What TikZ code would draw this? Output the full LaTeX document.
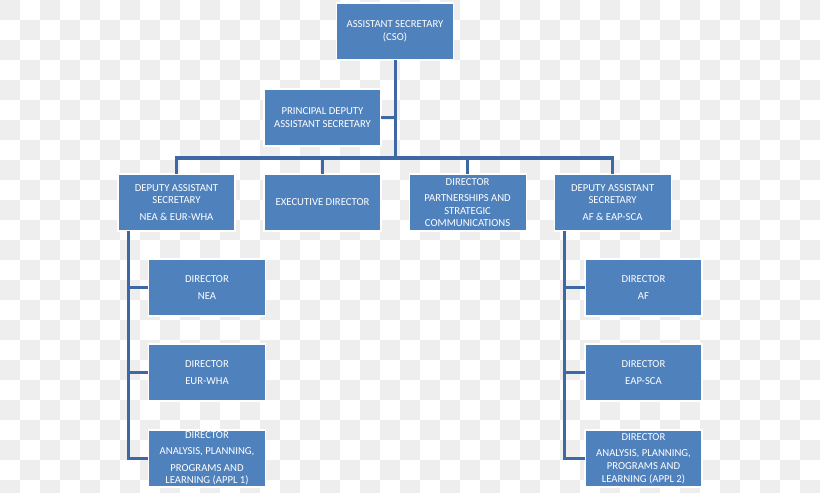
\documentclass[tikz,border=0pt]{standalone}
\usepackage{fontspec}
\setmainfont{Carlito}
\usepackage{xcolor}
\usepackage{tikz}
\usetikzlibrary{positioning}
\definecolor{boxblue}{RGB}{79,129,189}
\definecolor{lineblue}{RGB}{62,104,164}
\definecolor{checkgray}{RGB}{238,238,238}

\begin{document}
\begin{tikzpicture}[x=0.025cm,y=-0.025cm,
  font=\fontsize{7.6}{9}\selectfont,
  box/.style={draw=white,line width=0.8pt,fill=boxblue,text=white,minimum width=2.925cm,minimum height=1.425cm,inner sep=1pt,outer sep=0pt,align=center},
  link/.style={draw=lineblue,line width=0.075cm}
]
  \useasboundingbox (0,0) rectangle (820,492);
  % background checks
  \begin{scope}
    \clip (0,0) rectangle (820,492);
    \foreach \i in {0,...,40}
      \foreach \j in {0,...,24}{
        \pgfmathtruncatemacro{\odd}{mod(\i+\j,2)}
        \ifnum\odd=0 \fill[checkgray] (\i*20,\j*20) rectangle ++(20,20); \fi
      }
  \end{scope}

  \node[box] (cso) at (395,31.5) {ASSISTANT SECRETARY\\(CSO)};
  \node[box] (pdas) at (322.5,117.5) {PRINCIPAL DEPUTY\\ASSISTANT SECRETARY};

  \node[box] (dasnea) at (176.5,202.5) {DEPUTY ASSISTANT\\SECRETARY\\[3pt]NEA \& EUR-WHA};
  \node[box, right=0.725cm of dasnea] (execdir) {EXECUTIVE DIRECTOR};
  \node[box, right=0.7cm of execdir] (dirpsc) {DIRECTOR\\[2.5pt]PARTNERSHIPS AND\\STRATEGIC\\COMMUNICATIONS};
  \node[box, right=0.7cm of dirpsc] (dasaf) {DEPUTY ASSISTANT\\SECRETARY\\[3pt]AF \& EAP-SCA};

  \node[box] (dirnea) at (207,287.5) {DIRECTOR\\[3pt]NEA};
  \node[box, below=0.7cm of dirnea] (direur) {DIRECTOR\\[3pt]EUR-WHA};
  \node[box, below=0.725cm of direur] (appla) {DIRECTOR\\[2.5pt]ANALYSIS, PLANNING,\\[2.5pt]PROGRAMS AND\\LEARNING (APPL 1)};

  \node[box] (diraf) at (643.5,287.5) {DIRECTOR\\[3pt]AF};
  \node[box, below=0.7cm of diraf] (direap) {DIRECTOR\\[3pt]EAP-SCA};
  \node[box, below=0.725cm of direap] (applb) {DIRECTOR\\[2.5pt]ANALYSIS, PLANNING,\\PROGRAMS AND\\LEARNING (APPL 2)};

  % connectors
  \coordinate (bus) at (395,158);
  \draw[link] (cso.south) -- (bus);
  \draw[link] (pdas.east) -- (pdas.east -| bus);
  \foreach \n in {dasnea,execdir,dirpsc,dasaf}
    \draw[link] (\n.north) |- (bus);

  \coordinate (lspine) at (128,231);
  \foreach \n in {dirnea,direur,appla}
    \draw[link] (lspine) |- (\n.west);
  \coordinate (rspine) at (564,231);
  \foreach \n in {diraf,direap,applb}
    \draw[link] (rspine) |- (\n.west);
\end{tikzpicture}
\end{document}
